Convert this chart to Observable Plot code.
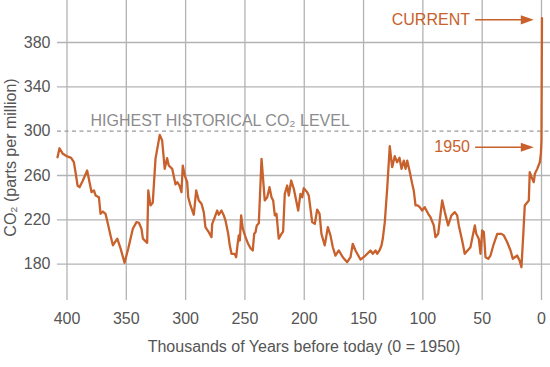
<!DOCTYPE html>
<html><head><meta charset="utf-8">
<script src="https://cdn.jsdelivr.net/npm/d3@7"></script>
<script src="https://cdn.jsdelivr.net/npm/@observablehq/plot@0.6"></script>
<style>body{margin:0;background:#fff}</style>
</head><body><div id="chart"></div>
<script>
// Thousands of years before 1950
const kyrBP = [408.0,406.3,403.5,399.8,396.5,394.2,392.8,391.1,389.4,386.6,383,379.3,377.3,375.9,373.1,371.7,369.7,367.5,365.2,363.3,361.3,357.6,354.8,351.5,348.4,344.5,341.4,339.4,337.2,336,332.4,331.5,329.6,327.7,325.4,321.8,319.8,317.6,315.6,314.2,311.3,308.5,307,305.2,303.5,302.4,300.7,298.7,297.8,295.9,293.1,291.1,288.9,286.6,284.7,283.3,280.5,278.2,277.6,275.4,273.4,272,269.8,267.8,266.4,264.1,262.8,261.3,258.6,257.4,256.3,255.2,254.3,253.2,251.8,249.5,247.3,245.3,243.4,242.2,241.1,240,238.3,236,233.3,231.2,229.3,227.6,226.2,224.8,223.4,221.5,219.2,217.8,216.4,214.4,213,211,208.8,206.8,205.1,203.2,201.7,200.4,197.5,196.2,193.3,191.1,189.1,187.1,185.5,182.7,180.1,177.9,175.9,173.7,170.9,167.5,163.8,161,159.1,156.8,152.6,148.4,144.2,142.2,139.9,138.5,136.6,134.9,133.8,132.1,130.1,127.9,125.9,123.7,121.7,119.7,118,116.1,114.6,113.2,111.3,109,107.7,106.2,104.2,102.3,100.6,98.4,95.5,93.6,90.8,89.4,87.1,85.1,83.7,81.5,78.7,75.9,73.1,71.1,69.7,66.9,64.7,59.9,56.2,55,52.9,51.4,50,48.6,47.2,44.9,43,40.2,37.3,33.7,31.8,28.9,26.1,24.2,22.5,20.5,18.5,16.9,15.4,14.1,10.7,9.9,7.8,6.5,5.6,3.6,1.4,0.5,0,-0.4];
// CO2 concentration (ppm)
const co2 = [276.5,284.6,279.6,277.2,276,272,263,251,249.5,255.5,264.5,245,246.5,242,240.4,225.5,227.5,225.5,215,206,197,203,194,181.3,194,212,218,217.4,212,203,199.3,246.5,233,235.4,275,296.7,291.6,266,275.6,269,266,252,254,251,245,269,260,254,240.4,233,224.6,246.5,237.5,234.5,227,213.4,208.9,204.4,216.4,222.4,228.4,224.6,228.4,224,219.4,207.4,197,189.4,189.4,186.3,197,206,201.4,224,212,204.4,198.4,194.4,192.4,207.4,208.9,215,217,275,237.5,240.4,249.5,240.4,237.5,224,225.5,203,207.4,209.5,243.5,251,242,255.5,248,237.5,228.4,243.5,240.4,248.6,245,242,218,216.4,229.3,225.5,207.4,197,213.4,206,195.3,187.8,192.4,186.3,181.8,186.3,198.4,192.4,184.2,187.8,192.4,189.4,192.4,189.4,192.4,196.9,202.9,217.9,248,286.4,267.5,277.4,272,276,266,273.5,266,273.5,264.5,252.5,246.5,233,233,231,228.4,231.4,225.5,222.4,215,204.4,207.4,225.5,237.5,227,215,224,227,224,215,201.4,189.4,195.3,215,207.4,203,189.4,210.4,208.9,186.3,184.9,187.8,198.4,207.4,207.4,206,199.8,192.4,184.9,186.3,187.8,183.3,177.3,205.9,233,237.5,263,257,254,261.5,266,272,280,292,402];

const yTicks = [180, 220, 260, 300, 340, 380];
const xTicks = [400, 350, 300, 250, 200, 150, 100, 50, 0];
const historicMax = [300];
const historicLabel = ["HIGHEST HISTORICAL CO₂ LEVEL"];
const calloutText = ["CURRENT", "1950"];
const calloutLevel = [400.5, 285.5];
const yLabel = ["CO₂ (parts per million)"];
const xLabel = ["Thousands of Years before today (0 = 1950)"];

const data = kyrBP.map((k, i) => ({k, v: co2[i]}));
const callouts = calloutText.map((t, i) => ({t, v: calloutLevel[i]}));

const orange = "#c8612b";
const gridColor = "#b3b3b3";
const arrowHead = {draw(ctx) { ctx.moveTo(0, 0); ctx.lineTo(-13, -4.6); ctx.lineTo(-13, 4.6); ctx.closePath(); }};

const chart = Plot.plot({
  width: 550, height: 367,
  marginLeft: 57, marginRight: 0, marginTop: 0, marginBottom: 67,
  style: {fontFamily: "'Liberation Sans', Arial, sans-serif", fontSize: "16px", background: "#fff", overflow: "visible"},
  x: {domain: [408.0, -7.59]},
  y: {domain: [147.25, 417.9]},
  marks: [
    Plot.gridY(yTicks.filter(t => t !== historicMax[0]), {stroke: gridColor, strokeOpacity: 1, strokeWidth: 1.3}),
    Plot.gridX(xTicks, {stroke: gridColor, strokeOpacity: 1, strokeWidth: 1.3}),
    Plot.ruleY(historicMax, {stroke: "#9a9a9a", strokeWidth: 1.2, strokeDasharray: "4,3.5"}),
    Plot.axisY(yTicks, {tickSize: 0, tickPadding: 7, fontSize: 16, fill: "#555", label: null}),
    Plot.axisX(xTicks, {tickSize: 0, tickPadding: 12, fontSize: 16, fill: "#555", label: null}),
    Plot.text(historicLabel, {x: 380.2, y: historicMax[0], textAnchor: "start", lineAnchor: "bottom", dy: -5, fill: "#8c8c8c", fontSize: 16}),
    Plot.line(data, {x: "k", y: "v", stroke: orange, strokeWidth: 2.3, strokeLinejoin: "round"}),
    Plot.ruleY(callouts, {y: "v", x1: 55.5, x2: 15, stroke: orange, strokeWidth: 1.6}),
    Plot.dot(callouts, {x: 6.5, y: "v", symbol: arrowHead, r: 5, fill: orange, stroke: "none"}),
    Plot.text(callouts, {x: 60.3, y: "v", text: "t", textAnchor: "end", lineAnchor: "middle", fill: orange, fontSize: 16}),
    Plot.text(yLabel, {frameAnchor: "left", dx: -47, dy: 7, rotate: -90, textAnchor: "middle", lineAnchor: "middle", fill: "#555", fontSize: 16}),
    Plot.text(xLabel, {frameAnchor: "bottom", dy: 46, textAnchor: "middle", lineAnchor: "middle", fill: "#555", fontSize: 16})
  ]
});
document.getElementById("chart").appendChild(chart);
</script>
</body></html>
